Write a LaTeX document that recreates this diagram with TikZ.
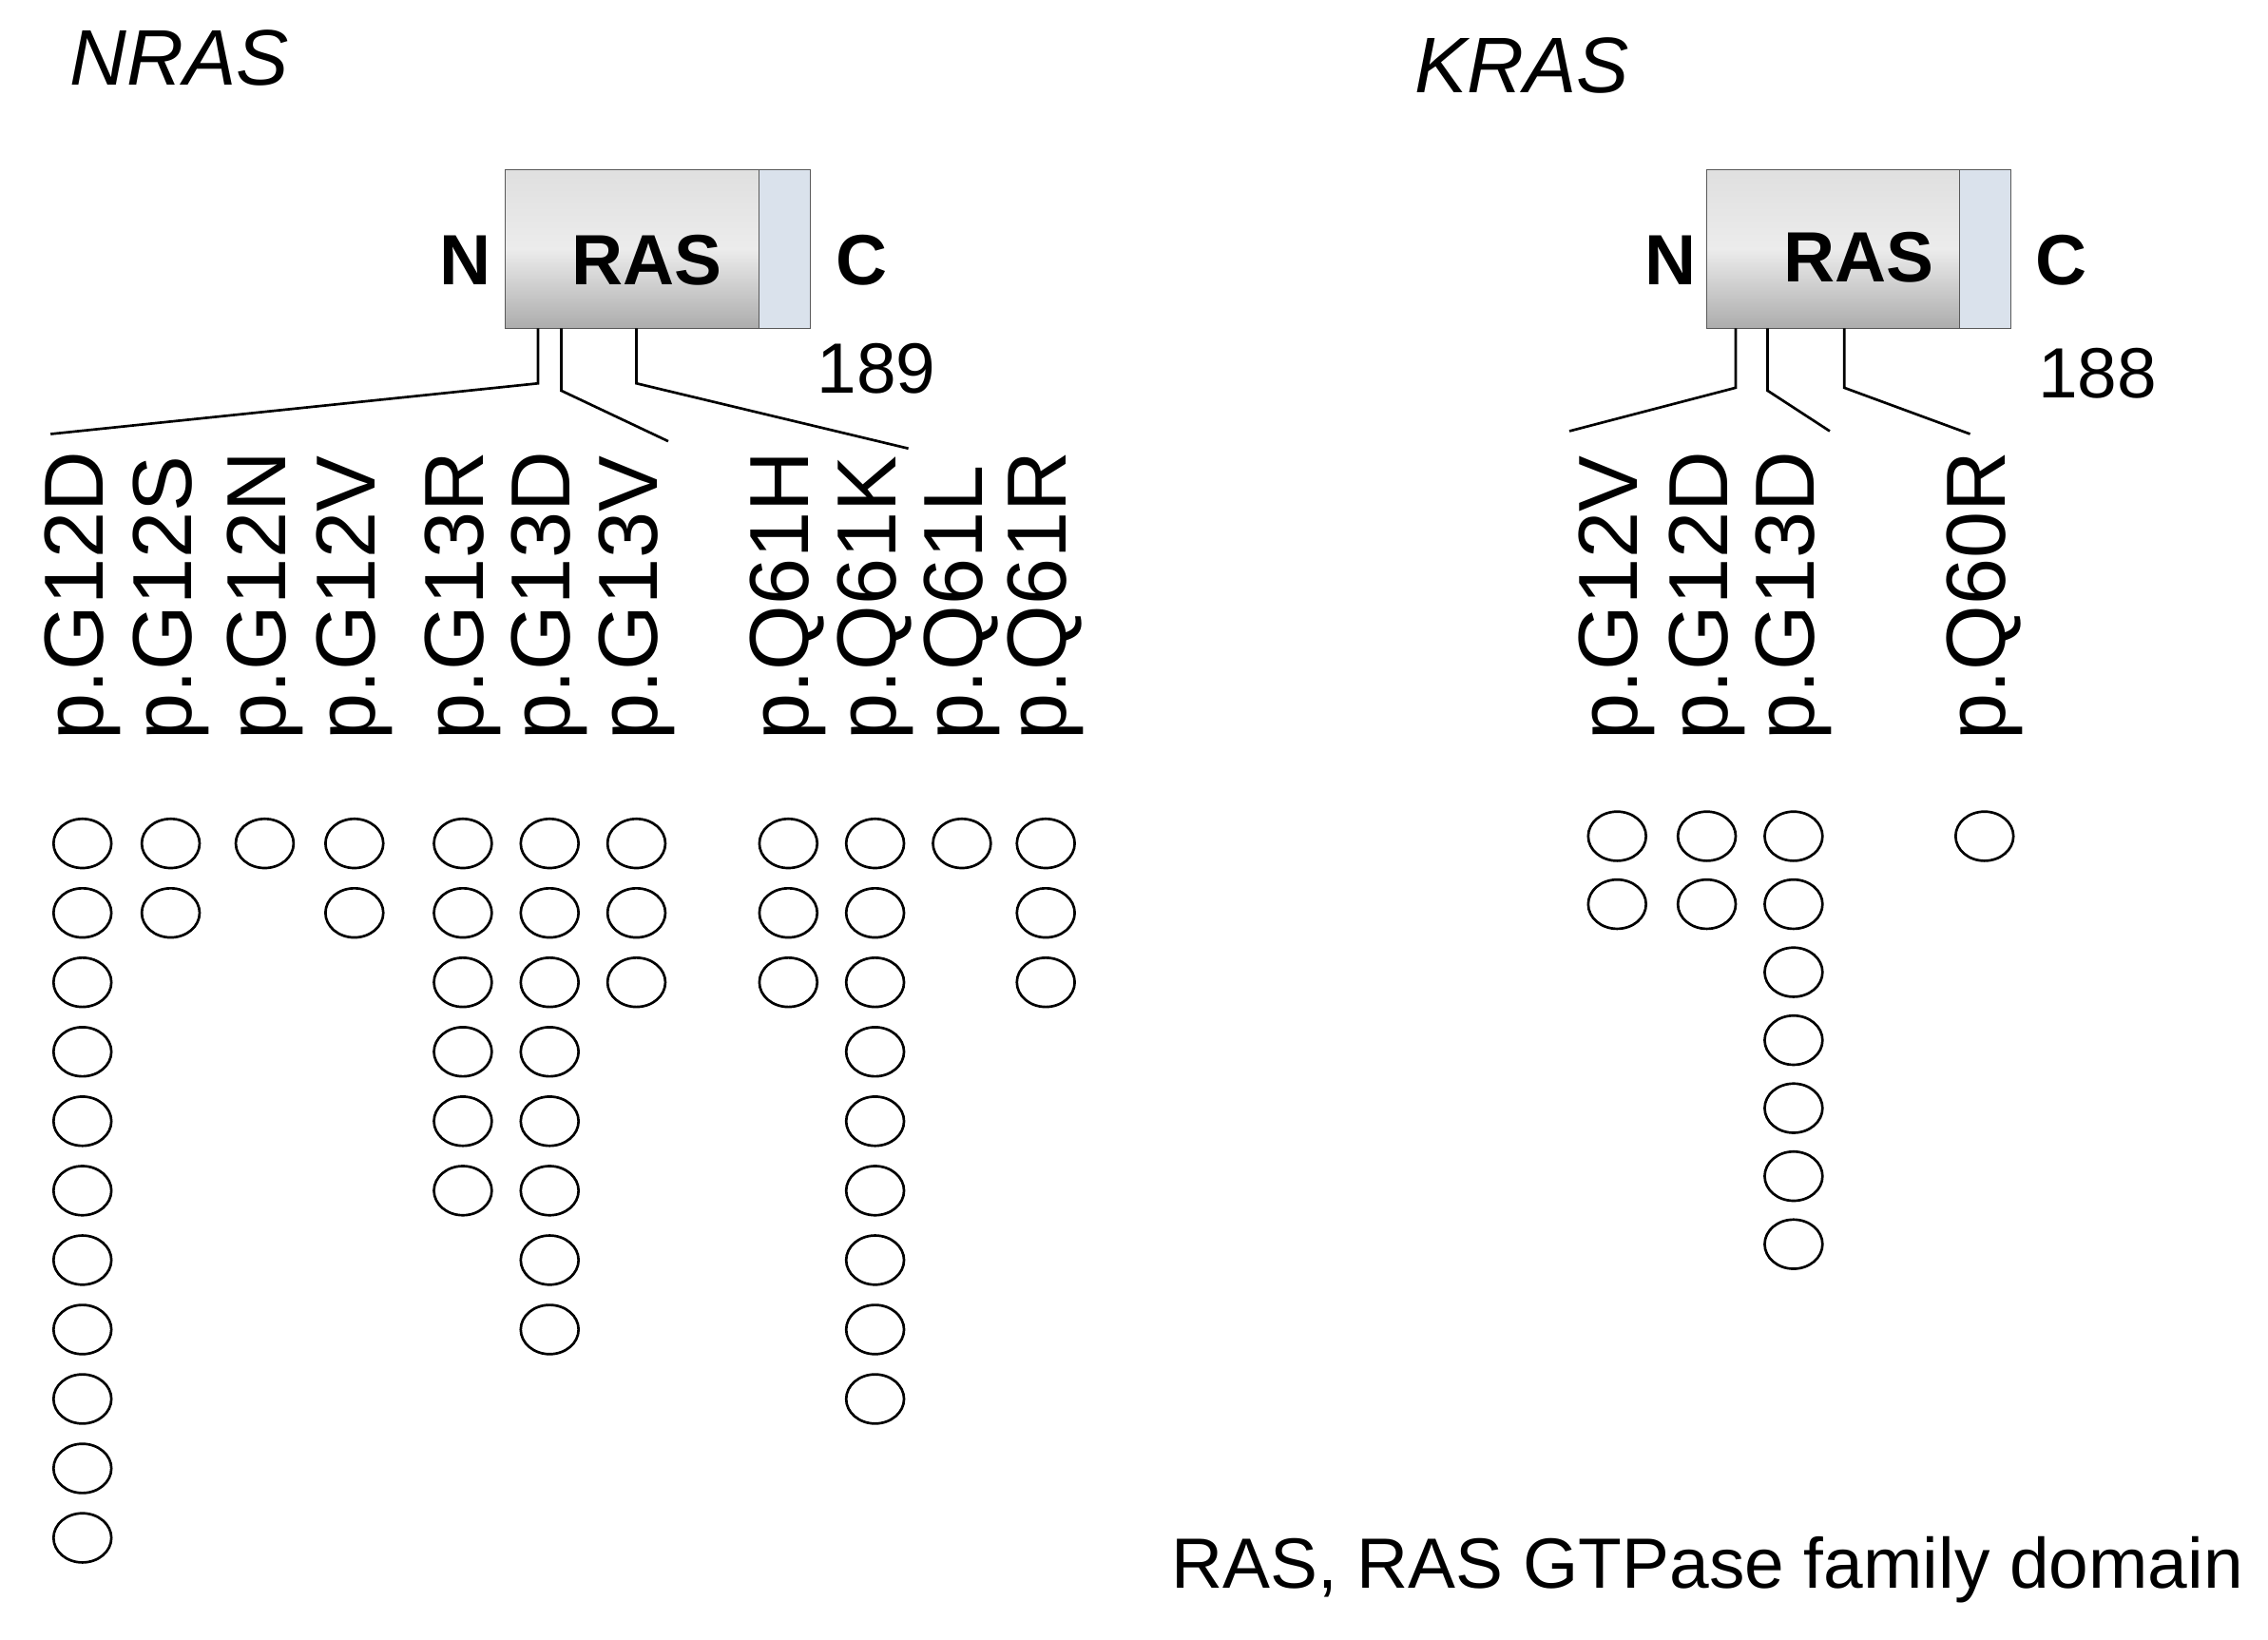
\documentclass[tikz,border=0pt]{standalone}
\usepackage{fontspec}
\setmainfont{Liberation Sans}
\begin{document}
\begin{tikzpicture}[x=0.02cm,y=-0.02cm,
  lab/.style={rotate=90,anchor=west,font=\fontsize{33}{36}\selectfont,inner sep=0pt},
  big/.style={font=\fontsize{28}{32}\selectfont\bfseries},
  num/.style={font=\fontsize{28}{32}\selectfont},
  ttl/.style={font=\fontsize{31}{34}\selectfont\itshape},
  conn/.style={line width=1pt},
  mut/.style={line width=1pt}]
\useasboundingbox (0,0) rectangle (1568,1133);
\definecolor{endc}{RGB}{218,226,236}
% NRAS
\node[ttl,anchor=west] (tn) at (42,40) {NRAS};
\shade[top color=gray!25,bottom color=gray!65,middle color=gray!15,draw=gray!70!black] (349,117) rectangle (525,227);
\fill[endc,draw=gray!70!black] (525,117) rectangle (560,227);
\node[big] (rn) at (447,180) {RAS};
\node[big] (nn) at (322,180) {N};
\node[big] (cn) at (596,180) {C};
\node[num] (len1) at (606,255) {189};
\coordinate (a1) at (372,227); \coordinate (a2) at (388,227); \coordinate (a3) at (440,227);
\coordinate (e1) at (35,300); \coordinate (e2) at (462,305); \coordinate (e3) at (628,310);
\draw[conn] (a1) -- (372,265) -- (e1);
\draw[conn] (a2) -- (388,270) -- (e2);
\draw[conn] (a3) -- (440,265) -- (e3);
\foreach \x/\t/\n in {57/G12D/11,118/G12S/2,183/G12N/1,245/G12V/2,320/G13R/6,380/G13D/8,440/G13V/3,545/Q61H/3,605/Q61K/9,665/Q61L/1,723/Q61R/3}{
  \node[lab] (l\t) at (\x,512) {p.\t};
  \foreach \i in {1,...,\n}{
    \draw[mut] (\x,{583+(\i-1)*48}) ellipse [x radius=0.4cm,y radius=0.34cm];
  }
}
% KRAS
\node[ttl,anchor=west] (tk) at (972,45) {KRAS};
\shade[top color=gray!25,bottom color=gray!65,middle color=gray!15,draw=gray!70!black] (1180,117) rectangle (1355,227);
\fill[endc,draw=gray!70!black] (1355,117) rectangle (1390,227);
\node[big] (rk) at (1285,178) {RAS};
\node[big] (nk) at (1155,180) {N};
\node[big] (ck) at (1425,180) {C};
\node[num] (len2) at (1450,258) {188};
\coordinate (b1) at (1200,227); \coordinate (b2) at (1222,227); \coordinate (b3) at (1275,227);
\coordinate (f1) at (1085,298); \coordinate (f2) at (1265,298); \coordinate (f3) at (1362,300);
\draw[conn] (b1) -- (1200,268) -- (f1);
\draw[conn] (b2) -- (1222,270) -- (f2);
\draw[conn] (b3) -- (1275,268) -- (f3);
\foreach \x/\t/\n in {1118/G12V/2,1180/G12D/2,1240/G13D/7,1372/Q60R/1}{
  \node[lab] (k\t) at (\x,512) {p.\t};
  \foreach \i in {1,...,\n}{
    \draw[mut] (\x,{578+(\i-1)*47}) ellipse [x radius=0.4cm,y radius=0.34cm];
  }
}
\node[num,anchor=east,font=\fontsize{28}{32}\selectfont] (leg) at (1557,1085) {RAS, RAS GTPase family domain};
\end{tikzpicture}
\end{document}
